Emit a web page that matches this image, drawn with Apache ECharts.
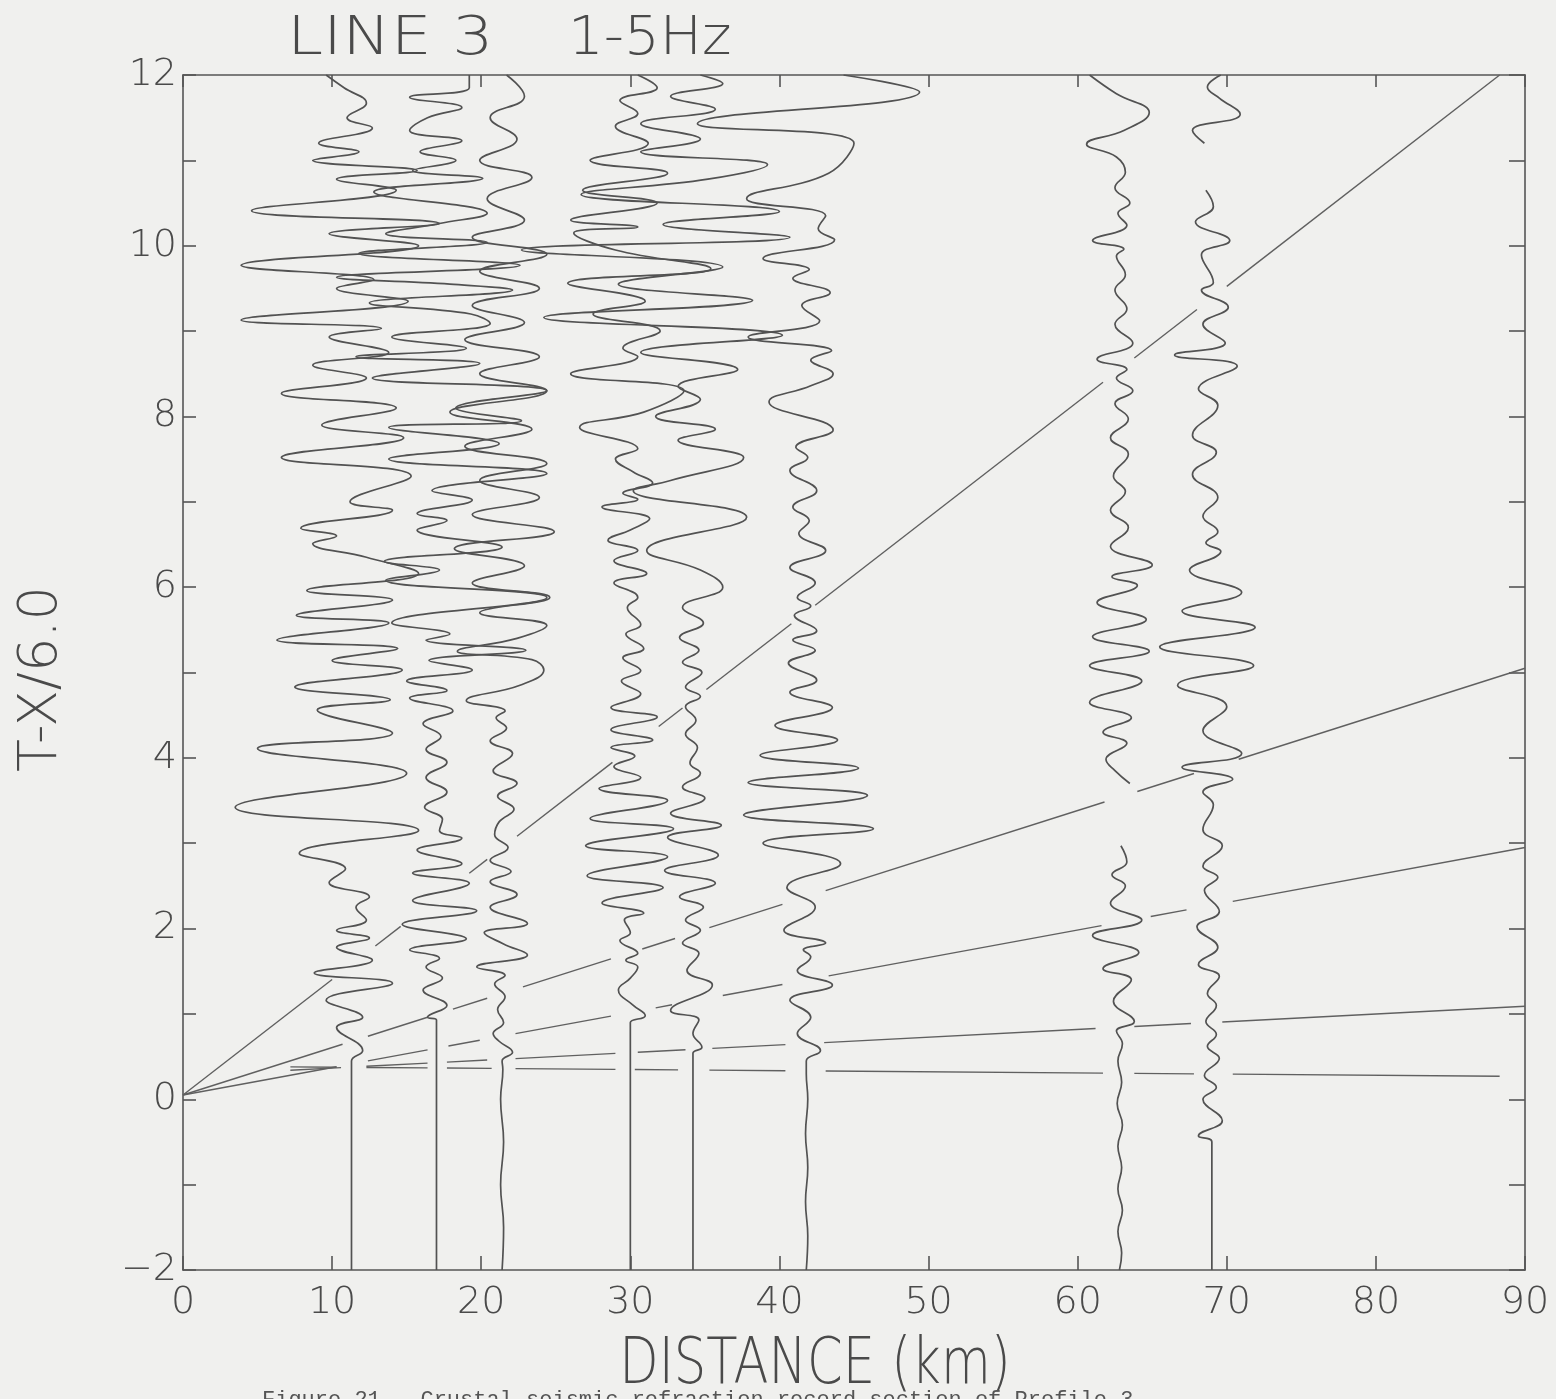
<!DOCTYPE html>
<html><head><meta charset="utf-8">
<script src="https://cdn.jsdelivr.net/npm/echarts@6.0.0/dist/echarts.min.js"></script>
<style>html,body{margin:0;padding:0;background:#f0f0ee}#c{width:1556px;height:1399px}</style>
</head><body><div id="c"></div>
<script>
// Trace baselines (distance, km)
const traceOffsets = [11.3, 17.0, 21.4, 30.0, 34.2, 41.8, 62.8, 69.0];

// Each trace: [reduced time (s), deflection from baseline (km)] ; null = pen lift
const trace1 = [[-2,0],[0.35,0],[0.45,0],[0.57,0.75],[0.84,-1.0],[0.96,0.75],[1.16,-1.7],[1.36,2.75],[1.48,-2.5],[1.63,1.4],[1.78,-1.0],[1.89,1.2],[1.98,-1.0],[2.1,1.0],[2.25,0.3],[2.37,1.2],[2.54,-1.5],[2.7,-0.4],[2.88,-3.5],[3.15,4.5],[3.42,-7.8],[3.82,3.7],[4.11,-6.3],[4.29,2.75],[4.56,-2.3],[4.68,2.6],[4.83,-3.8],[5.03,3.4],[5.14,-1.3],[5.28,3.1],[5.38,-5.0],[5.58,2.5],[5.67,-3.7],[5.85,2.75],[5.96,-3.0],[6.16,4.5],[6.35,1.0],[6.51,-2.6],[6.6,-1.0],[6.69,-3.4],[6.9,2.75],[7.0,-0.1],[7.3,4.0],[7.52,-4.7],[7.75,3.5],[7.9,-2.0],[8.1,3.0],[8.27,-4.7],[8.45,1.0],[8.6,-2.6],[8.75,2.5],[8.93,-1.5],[9.03,2.0],[9.13,-7.4],[9.35,3.8],[9.5,-1.0],[9.6,1.5],[9.77,-7.4],[10.0,4.5],[10.14,-1.5],[10.26,5.9],[10.41,-6.7],[10.65,3.0],[10.78,-1.0],[10.88,4.4],[11.0,-2.6],[11.1,0.5],[11.2,-2.2],[11.38,1.4],[11.5,-0.3],[11.67,1.0],[11.85,-0.5],[12.0,-1.7]];
const trace2 = [[-2,0],[0.85,0],[0.93,0],[0.96,-0.6],[1.1,0.7],[1.28,-0.9],[1.42,0.4],[1.55,-0.7],[1.65,0.2],[1.75,-1.8],[1.88,2.0],[2.05,-2.3],[2.21,2.7],[2.33,-1.6],[2.53,2.2],[2.65,-1.6],[2.76,1.7],[2.92,-1.3],[3.06,1.7],[3.15,0.2],[3.28,0.4],[3.42,-0.8],[3.6,0.7],[3.77,-0.7],[3.95,0.7],[4.1,-0.7],[4.25,0.3],[4.4,-0.9],[4.55,1.1],[4.7,-1.8],[4.79,0.7],[4.9,-2.0],[5.03,2.4],[5.14,-0.5],[5.26,6.0],[5.38,-0.7],[5.45,0.9],[5.58,-3.0],[5.88,7.4],[6.08,-3.4],[6.2,0.2],[6.3,-3.5],[6.47,4.4],[6.67,-1.3],[6.78,0.7],[6.86,-1.3],[7.02,2.4],[7.13,-0.3],[7.33,7.4],[7.5,-3.2],[7.68,4.2],[7.87,-3.2],[7.95,5.7],[8.1,1.3],[8.3,7.4],[8.45,-4.3],[8.62,2.9],[8.7,-5.4],[8.8,2.0],[8.93,-3.0],[9.09,3.6],[9.2,2.3],[9.33,-4.5],[9.48,5.1],[9.55,0.9],[9.63,-6.7],[9.77,5.6],[9.91,-5.2],[10.04,3.4],[10.14,-3.4],[10.26,0.2],[10.38,3.4],[10.63,-4.2],[10.79,3.1],[10.88,-1.6],[11.0,1.3],[11.1,-1.1],[11.23,1.7],[11.35,-1.8],[11.5,-0.6],[11.62,1.7],[11.74,-1.8],[11.85,2.2],[12.0,2.2]];
const trace3 = [[-2,0],[-1.5,0.1],[-1.0,-0.1],[-0.5,0.1],[0,-0.1],[0.35,0.05],[0.45,0],[0.55,0.7],[0.68,-0.2],[0.77,-0.6],[0.9,0.1],[1.05,-0.3],[1.2,0.2],[1.35,-0.5],[1.45,0.2],[1.55,-1.7],[1.69,1.7],[1.82,0.1],[1.95,-1.2],[2.06,1.7],[2.25,-0.8],[2.4,1.0],[2.55,-0.8],[2.67,0.6],[2.8,-0.8],[2.95,0.4],[3.1,-0.5],[3.25,-0.2],[3.4,0.8],[3.55,-0.3],[3.7,1.0],[3.85,-0.6],[4.05,0.7],[4.2,-0.8],[4.35,0.3],[4.47,-0.4],[4.55,0.2],[4.67,-2.4],[4.85,1.2],[5.03,2.8],[5.15,2.0],[5.25,-3.0],[5.4,1.0],[5.55,3.0],[5.7,-1.5],[5.88,3.2],[6.05,-2.0],[6.25,1.5],[6.45,-3.2],[6.65,3.5],[6.85,-2.0],[7.05,2.5],[7.25,-1.5],[7.45,3.0],[7.65,-2.5],[7.85,2.0],[8.05,-3.5],[8.3,3.0],[8.5,-1.5],[8.7,2.5],[8.9,-2.5],[9.1,1.5],[9.3,-2.0],[9.5,2.5],[9.7,-1.5],[9.9,3.0],[10.1,-2.0],[10.3,1.5],[10.55,-1.0],[10.8,2.0],[11.0,-1.5],[11.25,1.0],[11.5,-0.8],[11.75,1.5],[12.0,0.3]];
const trace4 = [[-2,0],[0.85,0],[0.9,0],[0.98,1.0],[1.1,0.2],[1.28,-0.8],[1.42,0.0],[1.55,0.5],[1.63,-0.3],[1.71,0.5],[1.86,-0.7],[1.95,0.0],[2.1,-0.4],[2.18,0.9],[2.3,-1.9],[2.48,2.2],[2.62,-2.9],[2.84,2.5],[2.97,-3.0],[3.17,2.9],[3.29,-2.7],[3.5,2.5],[3.64,-2.1],[3.77,0.7],[3.9,-1.1],[4.02,0.3],[4.12,-1.3],[4.21,1.5],[4.33,-1.3],[4.48,1.8],[4.59,-1.3],[4.75,0.7],[4.9,-0.6],[5.02,0.7],[5.17,-0.5],[5.28,0.9],[5.45,-0.3],[5.56,0.7],[5.76,-0.2],[5.88,0.5],[6.05,-1.1],[6.16,1.1],[6.31,-1.1],[6.43,0.5],[6.55,-1.5],[6.67,0.0],[6.8,1.3],[6.94,-1.9],[7.03,0.5],[7.1,-0.5],[7.22,1.5],[7.35,0.2],[7.5,-1.0],[7.62,0.5],[7.87,-3.4],[8.05,0.9],[8.3,3.6],[8.5,-4.0],[8.7,0.5],[8.8,-0.5],[9.0,2.0],[9.2,-2.5],[9.35,1.0],[9.56,-4.2],[9.73,5.4],[9.95,-1.0],[10.15,-3.8],[10.22,0.5],[10.3,-4.0],[10.5,1.8],[10.65,-3.2],[10.85,2.5],[11.0,-2.7],[11.2,1.2],[11.4,-1.0],[11.55,0.5],[11.7,-0.7],[11.85,1.8],[12.0,0.5]];
const trace5 = [[-2,0],[0.45,0],[0.54,0],[0.61,0.6],[0.77,0.0],[0.93,0.4],[1.04,-1.5],[1.34,1.3],[1.51,-0.4],[1.71,0.4],[1.83,-0.7],[1.98,0.5],[2.1,-0.5],[2.25,0.7],[2.37,-0.9],[2.53,1.5],[2.68,-1.9],[2.86,1.7],[3.07,-1.7],[3.21,1.9],[3.35,-1.5],[3.53,0.8],[3.66,-0.7],[3.82,0.5],[3.94,-0.2],[4.12,0.3],[4.28,-0.5],[4.44,0.2],[4.6,-0.5],[4.72,0.5],[4.83,-0.5],[5.0,0.6],[5.12,-0.7],[5.26,0.4],[5.41,-0.9],[5.58,0.7],[5.76,-0.7],[6.0,2.0],[6.2,0.5],[6.43,-3.1],[6.82,3.6],[7.13,-4.0],[7.25,-1.5],[7.52,3.4],[7.72,-1.0],[7.85,1.5],[8.0,-2.5],[8.2,0.5],[8.35,-1.0],[8.55,3.0],[8.75,-3.5],[8.95,6.0],[9.16,-10.0],[9.36,4.0],[9.55,-5.0],[9.75,2.0],[9.95,-11.5],[10.1,6.5],[10.25,-2.0],[10.4,5.8],[10.6,-7.5],[10.78,1.0],[10.95,5.0],[11.1,-3.5],[11.25,0.5],[11.43,-3.5],[11.6,1.5],[11.75,-1.5],[11.9,2.0],[12.0,0.5]];
const trace6 = [[-2,0],[-1.6,0.1],[-1.2,-0.05],[-0.8,0.1],[-0.4,-0.05],[0,0.1],[0.3,0],[0.45,0],[0.57,0.95],[0.77,-0.6],[0.96,0.3],[1.16,-1.1],[1.34,1.75],[1.51,-0.6],[1.67,0.3],[1.75,-0.2],[1.83,1.3],[1.98,-1.5],[2.25,0.6],[2.48,-1.3],[2.76,2.3],[3.0,-2.9],[3.17,4.5],[3.33,-4.2],[3.56,4.1],[3.71,-3.9],[3.88,3.5],[4.03,-3.1],[4.21,2.1],[4.38,-2.1],[4.59,1.75],[4.77,-1.1],[4.91,0.7],[5.11,-1.2],[5.26,0.6],[5.38,-0.9],[5.49,0.7],[5.67,-0.8],[5.78,0.3],[5.88,-0.6],[6.05,0.6],[6.23,-1.1],[6.43,1.3],[6.63,-0.5],[6.78,0.2],[6.94,-0.9],[7.13,0.7],[7.37,-1.1],[7.52,0.1],[7.64,-0.7],[7.84,1.8],[8.17,-2.5],[8.36,0.3],[8.5,1.8],[8.66,0.3],[8.77,1.7],[8.93,-3.9],[9.12,0.9],[9.3,-0.3],[9.45,1.6],[9.62,-0.9],[9.72,0.2],[9.85,-2.9],[10.07,1.9],[10.2,0.8],[10.35,1.3],[10.55,-4.0],[10.85,1.5],[11.2,3.2],[11.43,-7.3],[11.8,7.6],[12.0,2.5]];
const trace7 = [[-2,0],[-1.8,0.15],[-1.55,-0.1],[-1.3,0.2],[-1.05,-0.1],[-0.8,0.15],[-0.55,-0.1],[-0.3,0.2],[-0.05,-0.15],[0.2,0.15],[0.45,-0.1],[0.65,0.2],[0.8,-0.2],[0.91,1.0],[1.15,-0.4],[1.4,0.8],[1.53,-1.1],[1.72,1.3],[1.92,-1.8],[2.1,1.5],[2.3,-0.6],[2.5,0.4],[2.63,-0.5],[2.78,0.5],[2.97,0.1],null,[3.7,0.7],[3.85,-0.3],[3.98,-0.9],[4.17,0.5],[4.3,-1.1],[4.47,0.8],[4.65,-2.0],[4.9,1.5],[5.08,-2.0],[5.25,2.0],[5.42,-1.8],[5.62,1.8],[5.82,-1.5],[6.02,1.2],[6.12,-0.5],[6.26,2.2],[6.48,-0.6],[6.7,0.6],[6.9,-0.6],[7.12,0.4],[7.3,-0.4],[7.56,0.6],[7.75,-0.6],[7.97,0.6],[8.15,-0.3],[8.3,0.9],[8.45,-0.2],[8.55,0.5],[8.67,-1.5],[8.86,0.9],[9.08,-0.3],[9.26,0.5],[9.48,-0.3],[9.66,0.4],[9.88,-0.2],[9.96,0.3],[10.06,-1.8],[10.24,0.5],[10.38,-0.1],[10.5,0.7],[10.68,-0.3],[10.86,0.4],[11.04,-0.2],[11.19,-2.2],[11.35,0.3],[11.56,2.0],[11.78,-0.2],[12.0,-2.0]];
const trace8 = [[-2,0],[-0.5,0],[-0.43,-0.9],[-0.25,0.7],[0,-0.6],[0.14,0.3],[0.28,-0.5],[0.48,0.5],[0.62,-0.3],[0.76,0.3],[0.91,-0.4],[1.1,0.3],[1.24,-0.3],[1.44,0.5],[1.58,-0.9],[1.78,0.4],[2.02,-1.0],[2.2,0.5],[2.45,-0.5],[2.6,0.4],[2.73,-0.6],[2.97,0.7],[3.16,-0.6],[3.45,0.1],[3.6,-0.6],[3.75,1.4],[3.89,-2.0],[4.05,2.0],[4.32,-0.6],[4.6,1.0],[4.85,-2.3],[5.08,2.8],[5.3,-3.5],[5.53,2.9],[5.72,-2.0],[5.94,2.0],[6.2,-1.5],[6.42,0.6],[6.52,-0.4],[6.65,0.4],[6.83,-0.6],[7.05,0.4],[7.32,-1.3],[7.58,0.3],[7.78,-1.3],[8.13,0.4],[8.32,-0.9],[8.59,1.7],[8.72,-2.5],[8.86,0.9],[9.08,-0.6],[9.28,1.1],[9.48,-0.7],[9.57,0.1],[9.89,-0.7],[10.06,1.2],[10.28,-1.1],[10.46,0.1],[10.65,-0.4],null,[11.2,-0.5],[11.35,-1.3],[11.54,1.9],[11.73,0.5],[11.86,-0.3],[12.0,0.6]];
const traces = [trace1, trace2, trace3, trace4, trace5, trace6, trace7, trace8];

// Travel-time lines: [x start, t start, x end, t end]
const travelLines = [[0,0.05,88.3,12.0],[0,0.05,90,5.05],[0,0.05,90,2.95],[7.2,0.34,90,1.09],[7.2,0.38,88.3,0.27]];
// Pen-up intervals (km) on each line where it meets a trace
const lineGaps = [
  [[10.0,12.9],[14.6,19.2],[20.4,22.4],[28.8,31.9],[33.5,35.1],[40.8,42.4],[61.7,63.8],[68.0,70.0]],
  [[10.7,12.4],[16.4,18.1],[20.4,22.8],[28.7,30.8],[33.0,35.3],[40.2,43.1],[61.8,64.0],[67.8,70.8]],
  [[10.3,12.4],[16.4,17.8],[19.9,22.3],[28.7,31.7],[32.8,36.2],[40.2,43.3],[61.6,64.9],[67.3,70.4]],
  [[10.6,12.3],[16.4,17.7],[20.4,22.3],[29.0,30.5],[33.7,35.5],[40.4,43.0],[61.2,63.8],[67.6,69.7]],
  [[10.3,12.3],[16.4,17.7],[20.7,22.3],[29.0,30.3],[33.2,35.3],[40.4,43.1],[61.7,63.8],[67.8,70.4]]
];

const titleLine = 'LINE 3';
const titleBand = '1-5Hz';
const xName = 'DISTANCE (km)';
const yName = 'T-X/6.0';
const caption = 'Figure 21.  Crustal seismic refraction record section of Profile 3';

const ink = '#4a4a4a';
const chart = echarts.init(document.getElementById('c'), null, {renderer: 'canvas'});

const traceSeries = traces.map((tr, i) => ({
  type: 'line',
  data: tr.map(p => p === null ? ['-', '-'] : [traceOffsets[i] + p[1], p[0]]),
  showSymbol: false,
  smooth: 0.45,
  connectNulls: false,
  lineStyle: {color: '#525252', width: 1.7},
  z: 3,
  animation: false
}));

const lineSeries = {
  type: 'custom',
  data: travelLines,
  encode: {x: [0, 2], y: [1, 3]},
  z: 2,
  animation: false,
  renderItem: function (params, api) {
    const i = params.dataIndex;
    const L = travelLines[i];
    const x0 = L[0], x1 = L[2];
    const p0 = api.coord([L[0], L[1]]), p1 = api.coord([L[2], L[3]]);
    const segs = [];
    let s = x0;
    lineGaps[i].forEach(g => { if (g[0] > s) segs.push([s, Math.min(g[0], x1)]); s = Math.max(s, g[1]); });
    if (s < x1) segs.push([s, x1]);
    return {
      type: 'group',
      children: segs.map(sg => {
        const fa = (sg[0] - x0) / (x1 - x0), fb = (sg[1] - x0) / (x1 - x0);
        return {type: 'line', shape: {
          x1: p0[0] + (p1[0] - p0[0]) * fa, y1: p0[1] + (p1[1] - p0[1]) * fa,
          x2: p0[0] + (p1[0] - p0[0]) * fb, y2: p0[1] + (p1[1] - p0[1]) * fb},
          style: {stroke: '#606060', lineWidth: 1.4}};
      })
    };
  }
};

const thinFont = 'DejaVu Sans, Liberation Sans, sans-serif';
const labelFont = {color: ink, fontSize: 38, fontFamily: thinFont, fontWeight: 200};
const axLine = {show: true, onZero: false, lineStyle: {color: '#555', width: 1.6}};

chart.setOption({
  backgroundColor: '#f0f0ee',
  animation: false,
  grid: {left: 183, top: 75, right: 31, bottom: 129},
  xAxis: [
    {type: 'value', min: 0, max: 90, interval: 10, position: 'bottom',
     axisLine: axLine,
     axisTick: {show: true, inside: true, length: 14, lineStyle: {color: '#555', width: 1.6}},
     axisLabel: Object.assign({margin: 14}, labelFont),
     splitLine: {show: false}},
    {type: 'value', min: 0, max: 90, interval: 10, position: 'top',
     axisLine: axLine,
     axisTick: {show: true, inside: true, length: 12, lineStyle: {color: '#555', width: 1.6}},
     axisLabel: {show: false}, splitLine: {show: false}}
  ],
  yAxis: [
    {type: 'value', min: -2, max: 12, interval: 2, position: 'left',
     axisLine: axLine,
     axisTick: {show: true, inside: true, length: 13, lineStyle: {color: '#555', width: 1.6}},
     minorTick: {show: true, splitNumber: 2, length: 13, lineStyle: {color: '#555', width: 1.6}},
     axisLabel: Object.assign({margin: 6, formatter: v => v < 0 ? '\u2212' + (-v) : String(v)}, labelFont),
     splitLine: {show: false}},
    {type: 'value', min: -2, max: 12, interval: 1, position: 'right',
     axisLine: axLine,
     axisTick: {show: true, inside: true, length: 16, lineStyle: {color: '#555', width: 1.6}},
     axisLabel: {show: false}, splitLine: {show: false}}
  ],
  graphic: [
    {type: 'text', x: 287, y: 40, scaleX: 1.2, style: {text: titleLine, fill: ink, fontSize: 54, fontWeight: 200, fontFamily: thinFont, verticalAlign: 'middle'}},
    {type: 'text', x: 568, y: 40, scaleX: 1.04, style: {text: titleBand, fill: ink, fontSize: 54, fontWeight: 200, fontFamily: thinFont, verticalAlign: 'middle'}},
    {type: 'text', x: 42, y: 679, rotation: Math.PI / 2, style: {text: yName, fill: ink, fontSize: 54, fontWeight: 200, fontFamily: thinFont, align: 'center', verticalAlign: 'middle'}},
    {type: 'text', x: 815, y: 1366, scaleX: 0.8, style: {text: xName, fill: ink, fontSize: 64, fontFamily: thinFont, fontWeight: 200, align: 'center', verticalAlign: 'middle'}},
    {type: 'text', left: 262, top: 1389, style: {text: caption, fill: '#555', fontSize: 22, fontFamily: 'Liberation Mono, DejaVu Sans Mono, monospace'}}
  ],
  series: [lineSeries].concat(traceSeries)
});
</script></body></html>
